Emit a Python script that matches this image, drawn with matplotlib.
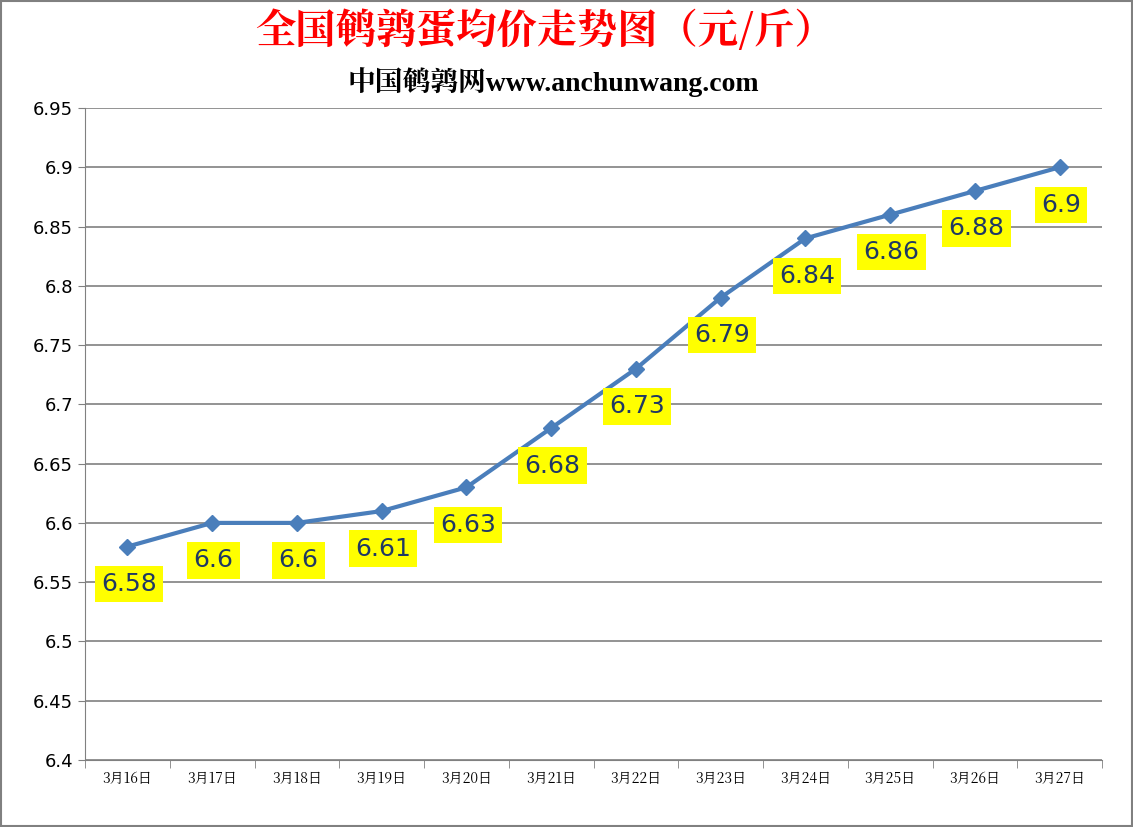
import matplotlib.pyplot as plt
from matplotlib import font_manager as fm

dates = ["3月16日", "3月17日", "3月18日", "3月19日", "3月20日", "3月21日",
         "3月22日", "3月23日", "3月24日", "3月25日", "3月26日", "3月27日"]
prices = [6.58, 6.6, 6.6, 6.61, 6.63, 6.68, 6.73, 6.79, 6.84, 6.86, 6.88, 6.9]
yticks = [6.4, 6.45, 6.5, 6.55, 6.6, 6.65, 6.7, 6.75, 6.8, 6.85, 6.9, 6.95]
ytick_labels = ["6.4", "6.45", "6.5", "6.55", "6.6", "6.65", "6.7", "6.75", "6.8", "6.85", "6.9", "6.95"]

# find a CJK font file directly, name lookup is not reliable
cjk_path = None
for f in fm.findSystemFonts():
    if 'CJK' in f or 'cjk' in f.lower():
        cjk_path = f
        if 'Bold' in f:
            break
if cjk_path:
    fm.fontManager.addfont(cjk_path)
    cjk_name = fm.FontProperties(fname=cjk_path).get_name()
else:
    cjk_name = "Noto Sans CJK SC"

plt.rcParams['font.family'] = ["DejaVu Sans", cjk_name]
fig = plt.figure(figsize=(11.33, 8.27), dpi=100, facecolor='white')
ax = fig.add_axes([85/1133, 1-760/827, 1017/1133, 652/827])

x = list(range(len(dates)))
ax.plot(x, prices, '-D', color='#4a7ebb', lw=3, ms=8, zorder=3)
for xi, v in zip(x, prices):
    ax.annotate("{:g}".format(v), xy=(xi, v), xytext=(1, -27), textcoords='offset points',
                ha='center', va='center', fontsize=18, color='#1f3864',
                bbox=dict(facecolor='#ffff00', edgecolor='none', boxstyle='square,pad=0.25'))

ax.set_xlim(-0.5, 11.5)
ax.set_ylim(6.4, 6.95)
ax.set_yticks(yticks)
ax.set_yticklabels(ytick_labels, fontsize=13)
ax.set_xticks(x)
ax.set_xticklabels(dates, fontsize=10, fontfamily=cjk_name)
ax.set_xticks([i - 0.5 for i in range(13)], minor=True)
ax.tick_params(axis='x', which='major', length=0, pad=8)
ax.tick_params(axis='x', which='minor', length=6, color='#808080')
ax.tick_params(axis='y', length=5, color='#808080')
ax.grid(axis='y', color='#808080', lw=1.2)
ax.set_axisbelow(True)
for s in ['top', 'right']:
    ax.spines[s].set_visible(False)
for s in ['left', 'bottom']:
    ax.spines[s].set_color('#808080')

fig.text(545/1133, 1-32/827, "全国鹌鹑蛋均价走势图（元/斤）", color='#ff0000', fontsize=29,
         fontweight='bold', fontfamily=cjk_name, ha='center', va='center')
fig.text(553/1133, 1-82/827, "中国鹌鹑网www.anchunwang.com", color='black', fontsize=20,
         fontweight='bold', fontfamily=["Liberation Serif", cjk_name], ha='center', va='center')

fig.patches.append(plt.Rectangle((0.001, 0.001), 0.998, 0.998, transform=fig.transFigure,
                                 fill=False, edgecolor='#808080', lw=1.5))
fig.savefig('out.png', dpi=100)
